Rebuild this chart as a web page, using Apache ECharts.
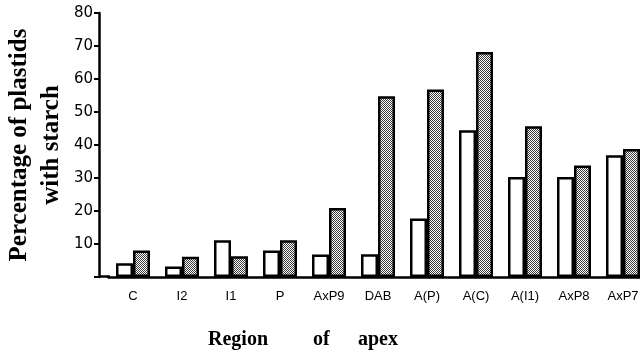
<!DOCTYPE html>
<html><head><meta charset="utf-8">
<script src="https://cdn.jsdelivr.net/npm/echarts@6/dist/echarts.min.js"></script>
<style>html,body{margin:0;padding:0;background:#fff}#c{width:640px;height:353px}</style>
</head><body><div id="c"></div>
<script>
var categories = ['C','I2','I1','P','AxP9','DAB','A(P)','A(C)','A(I1)','AxP8','AxP7'];
var openValues = [4.2, 3.2, 11.1, 8.0, 6.8, 6.9, 17.7, 44.5, 30.3, 30.3, 36.9];
var hatchedValues = [8.0, 6.1, 6.3, 11.1, 20.9, 54.8, 56.8, 68.2, 45.7, 33.8, 38.8];
var yTicks = [10, 20, 30, 40, 50, 60, 70, 80];

var pc = document.createElement('canvas');
pc.width = 2; pc.height = 2;
var ctx = pc.getContext('2d');
ctx.fillStyle = '#ffffff'; ctx.fillRect(0,0,2,2);
ctx.fillStyle = '#3a3a3a';
ctx.fillRect(0,0,1,1); ctx.fillRect(1,1,1,1);

var chart = echarts.init(document.getElementById('c'), null, {renderer:'canvas'});
chart.setOption({
  animation: false,
  backgroundColor: '#fff',
  grid: {left: 108.5, top: 13, width: 539, bottom: 76, containLabel: false, outerBoundsMode: 'none'},
  xAxis: {
    type: 'category', data: categories,
    axisLine: {lineStyle: {color: '#000', width: 2.5}},
    axisTick: {show: false},
    axisLabel: {color: '#000', fontSize: 13, fontFamily: 'Liberation Sans', margin: 13}
  },
  yAxis: {
    type: 'value', min: 0, max: 80, interval: 10, offset: 9.5,
    name: 'Percentage of plastids\nwith starch', nameLocation: 'middle', nameGap: 31, nameMoveOverlap: false,
    nameTextStyle: {color: '#000', fontSize: 25, fontWeight: 'bold', fontFamily: 'Liberation Serif', lineHeight: 32},
    splitLine: {show: false},
    axisLine: {show: true, lineStyle: {color: '#000', width: 2.5}},
    axisTick: {show: true, length: 5, lineStyle: {color: '#000', width: 2}},
    axisLabel: {color: '#000', fontSize: 15, fontFamily: 'DejaVu Sans', margin: 6,
      formatter: function(v){ return yTicks.indexOf(v) >= 0 ? String(v) : ''; }}
  },
  graphic: [
    {type: 'line', shape: {x1: 99, y1: 276.5, x2: 110, y2: 276.5}, style: {stroke: '#000', lineWidth: 2.5}},
    {type: 'text', left: 208, top: 330, style: {text: 'Region', font: 'bold 20px "Liberation Serif"', fill: '#000'}},
    {type: 'text', left: 313, top: 330, style: {text: 'of', font: 'bold 20px "Liberation Serif"', fill: '#000'}},
    {type: 'text', left: 358, top: 330, style: {text: 'apex', font: 'bold 20px "Liberation Serif"', fill: '#000'}}
  ],
  series: [
    {type: 'bar', data: openValues, barWidth: 17, barGap: '0%',
     itemStyle: {color: '#fff', borderColor: '#000', borderWidth: 2.5}},
    {type: 'bar', data: hatchedValues, barWidth: 17, barGap: '0%',
     itemStyle: {color: {image: pc, repeat: 'repeat'}, borderColor: '#000', borderWidth: 2.5}}
  ]
});
</script></body></html>
